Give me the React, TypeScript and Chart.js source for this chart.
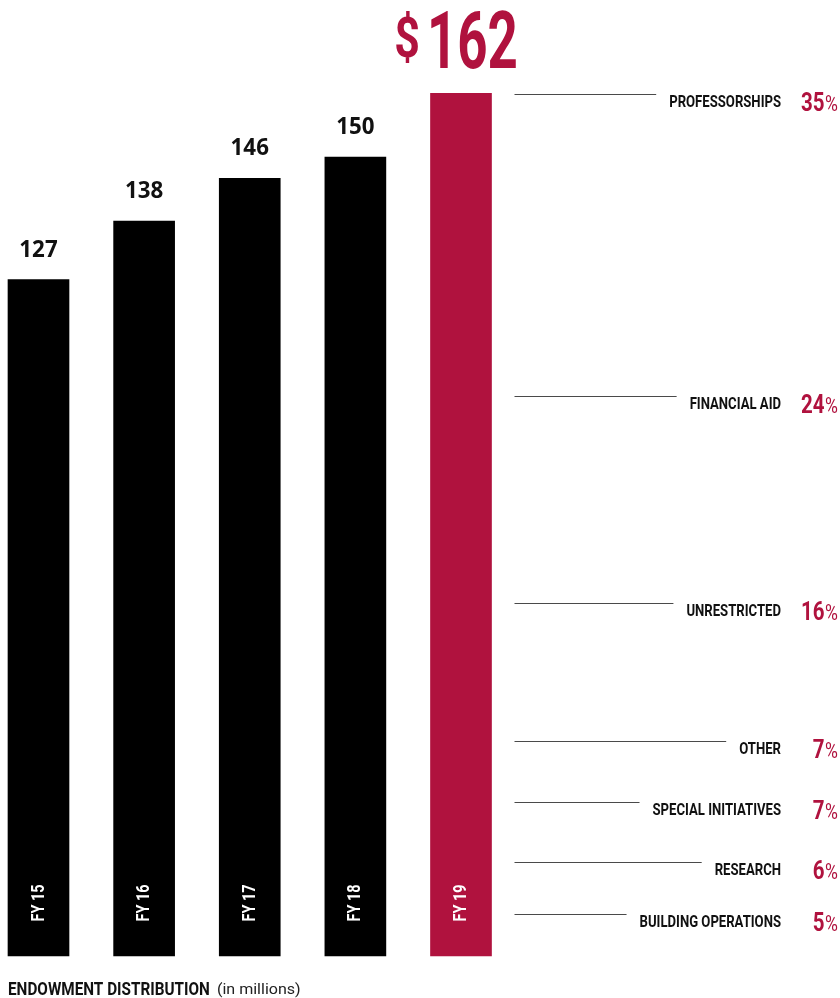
import React, { useEffect, useRef } from "react";
import { Chart, registerables } from "chart.js";

Chart.register(...registerables);

// ---- data ----
const YEARS = ["FY 15", "FY 16", "FY 17", "FY 18", "FY 19"];
const VALUES = [127, 138, 146, 150, 162];
const ALLOC_LABELS = [
  "PROFESSORSHIPS",
  "FINANCIAL AID",
  "UNRESTRICTED",
  "OTHER",
  "SPECIAL INITIATIVES",
  "RESEARCH",
  "BUILDING OPERATIONS",
];
const ALLOC_PCTS = [35, 24, 16, 7, 7, 6, 5];
const TITLE = "ENDOWMENT DISTRIBUTION";
const SUBTITLE = "(in millions)";
const Y_MAX = 175;

// ---- style ----
const CRIMSON = "#B0123E";
const BLACK = "#000000";
const W = 840;
const H = 998;
const LABEL_RIGHT = 781;
const PCT_RIGHT = 838;

function drawText(
  ctx: CanvasRenderingContext2D,
  text: string,
  x: number,
  y: number,
  font: string,
  color: string,
  sx: number,
  align: "left" | "center" | "right"
): number {
  ctx.save();
  ctx.font = font;
  ctx.fillStyle = color;
  ctx.textBaseline = "alphabetic";
  ctx.textAlign = "left";
  const w = ctx.measureText(text).width * sx;
  let left = x;
  if (align === "center") left = x - w / 2;
  else if (align === "right") left = x - w;
  ctx.translate(left, y);
  ctx.scale(sx, 1);
  ctx.fillText(text, 0, 0);
  ctx.restore();
  return w;
}

const annotate = {
  id: "annotate",
  afterDatasetsDraw(chart: any) {
    const ctx: CanvasRenderingContext2D = chart.ctx;
    const meta = chart.getDatasetMeta(0);
    const yScale = chart.scales.y;
    const base = yScale.getPixelForValue(0);
    const last = VALUES.length - 1;

    meta.data.forEach((bar: any, i: number) => {
      const { x, y } = bar.getProps(["x", "y"], true);
      if (i < last) {
        drawText(ctx, String(VALUES[i]), x, y - 23, '700 23px "Open Sans"', "#111111", 0.97, "center");
      } else {
        const digitsLeft = x - 34;
        drawText(ctx, String(VALUES[i]), digitsLeft, y - 25, "bold 80px Roboto", CRIMSON, 0.66, "left");
        drawText(ctx, "$", digitsLeft - 7, y - 36.5, "bold 56px Roboto", CRIMSON, 0.8, "right");
      }
      // rotated year label inside bar
      ctx.save();
      ctx.translate(x + 5, base - 53);
      ctx.rotate(-Math.PI / 2);
      drawText(ctx, YEARS[i], 0, 0, "bold 18px Roboto", "#ffffff", 0.8, "center");
      ctx.restore();
    });

    // allocation of the latest year
    const lastBar = meta.data[last];
    const lineStart = lastBar.x + lastBar.width / 2 + 23;
    let cum = 0;
    ALLOC_LABELS.forEach((label, i) => {
      const v = VALUES[last] * (1 - cum / 100);
      cum += ALLOC_PCTS[i];
      const ly = Math.round(yScale.getPixelForValue(v)) + 1;
      const labelW = drawText(ctx, label, LABEL_RIGHT, ly + 13, "bold 16px Roboto", "#111111", 0.82, "right");
      ctx.save();
      ctx.strokeStyle = "#4a4a4a";
      ctx.lineWidth = 1;
      ctx.beginPath();
      ctx.moveTo(lineStart, ly + 0.5);
      ctx.lineTo(LABEL_RIGHT - labelW - 13, ly + 0.5);
      ctx.stroke();
      ctx.restore();
      const pw = drawText(ctx, "%", PCT_RIGHT, ly + 17, "400 22px Roboto", CRIMSON, 0.8, "right");
      drawText(ctx, String(ALLOC_PCTS[i]), PCT_RIGHT - pw - 0.5, ly + 17, "bold 25px Roboto", CRIMSON, 0.82, "right");
    });

    // title
    const tw = drawText(ctx, TITLE, 8, 995, "bold 18px Roboto", "#111111", 0.85, "left");
    drawText(ctx, SUBTITLE, 8 + tw + 7, 994, "400 15px Roboto", "#222222", 1.07, "left");
  },
};

export default function App() {
  const ref = useRef<HTMLCanvasElement | null>(null);

  useEffect(() => {
    document.body.style.margin = "0";
    const canvas = ref.current;
    if (!canvas) return;
    const chart = new Chart(canvas, {
      type: "bar",
      data: {
        labels: YEARS,
        datasets: [
          {
            data: VALUES,
            backgroundColor: VALUES.map((_, i) => (i === VALUES.length - 1 ? CRIMSON : BLACK)),
            barThickness: 61,
            borderWidth: 0,
            clip: false as any,
          } as any,
        ],
      },
      options: {
        responsive: false,
        animation: false,
        devicePixelRatio: 1,
        layout: { padding: { left: 38.5, right: W - 461, top: 24, bottom: 42 } },
        plugins: {
          legend: { display: false },
          tooltip: { enabled: false },
        },
        scales: {
          x: { display: false, offset: false, grid: { display: false } },
          y: { display: false, min: 0, max: Y_MAX, grid: { display: false } },
        },
      },
      plugins: [annotate],
    });
    return () => chart.destroy();
  }, []);

  return (
    <div style={{ width: W, height: H, background: "#ffffff" }}>
      <canvas ref={ref} width={W} height={H} style={{ display: "block" }} />
    </div>
  );
}
